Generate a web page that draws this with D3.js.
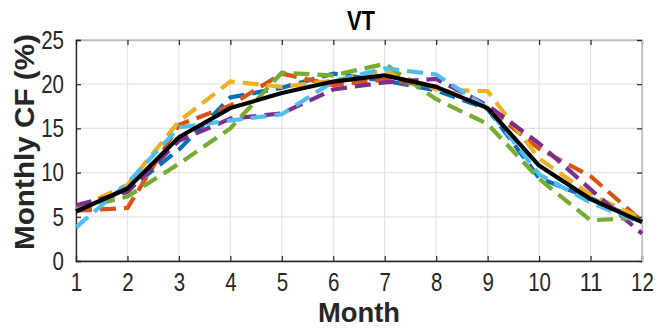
<!DOCTYPE html>
<html><head><meta charset="utf-8">
<script src="https://cdn.jsdelivr.net/npm/d3@7/dist/d3.min.js"></script>
<style>body{margin:0;background:#fff}svg{display:block}text{font-family:"Liberation Sans",Arial,sans-serif}</style>
</head><body>
<svg id="c" width="659" height="328"></svg>
<script>
const months = [1,2,3,4,5,6,7,8,9,10,11,12];
const xTicks = [1,2,3,4,5,6,7,8,9,10,11,12];
const yTicks = [0,5,10,15,20,25];
const title = "VT";
const xLabel = "Month";
const yLabel = "Monthly CF (%)";
const seriesBlue      = [5.8, 8.0, 12.6, 18.5, 19.6, 21.2, 20.4, 19.3, 17.2, 9.4, 7.1, 4.5];
const seriesOrange    = [5.7, 6.0, 15.4, 17.6, 21.2, 19.9, 20.5, 19.7, 17.3, 12.7, 9.6, 4.5];
const seriesYellow    = [5.9, 8.6, 15.8, 20.3, 19.7, 20.4, 21.6, 19.4, 19.2, 11.6, 7.5, 4.8];
const seriesPurple    = [6.3, 7.8, 13.6, 16.1, 16.7, 19.4, 20.2, 20.6, 17.6, 13.3, 8.1, 3.1];
const seriesGreen     = [5.8, 7.3, 11.0, 15.0, 21.3, 21.0, 22.3, 18.3, 15.5, 9.3, 4.6, 4.9];
const seriesLightBlue = [3.8, 8.8, 15.1, 15.9, 16.6, 20.3, 21.8, 21.1, 17.3, 9.8, 6.6, 4.3];
const seriesMean      = [5.6, 8.2, 14.0, 17.3, 19.0, 20.3, 21.0, 19.7, 17.3, 10.8, 7.0, 4.4];
const seriesList = [seriesBlue, seriesOrange, seriesYellow, seriesPurple, seriesGreen, seriesLightBlue];
const colors = ["#0072BD","#D95319","#EDB120","#7E2F8E","#77AC30","#4DBEEE"];

const svg = d3.select("#c");
const L = 76, R = 642, T = 40, B = 261;
const x = d3.scaleLinear().domain([1,12]).range([L,R]);
const y = d3.scaleLinear().domain([0,25]).range([B,T]);

// grid
const g = svg.append("g");
g.selectAll(".gx").data(xTicks.slice(1,-1)).enter().append("line")
  .attr("x1",d=>x(d)).attr("x2",d=>x(d)).attr("y1",T).attr("y2",B)
  .attr("stroke","#e3e3e3").attr("stroke-width",1.2);
g.selectAll(".gy").data(yTicks.slice(1,-1)).enter().append("line")
  .attr("y1",d=>y(d)).attr("y2",d=>y(d)).attr("x1",L).attr("x2",R)
  .attr("stroke","#e3e3e3").attr("stroke-width",1.2);

// box
svg.append("rect").attr("x",L).attr("y",T).attr("width",R-L).attr("height",B-T)
  .attr("fill","none").attr("stroke","#bdbdbd").attr("stroke-width",1.2);

// axes via d3
const xAxisB = d3.axisBottom(x).tickValues(xTicks).tickSize(-5).tickPadding(12).tickFormat(d3.format("d"));
const xAxisT = d3.axisTop(x).tickValues(xTicks).tickSize(-5).tickFormat("");
const yAxisL = d3.axisLeft(y).tickValues(yTicks).tickSize(-5).tickPadding(12).tickFormat(d3.format("d"));
const yAxisR = d3.axisRight(y).tickValues(yTicks).tickSize(-5).tickFormat("");
function style(sel, dark){
  sel.select(".domain").attr("stroke", dark ? "#262626" : "#bdbdbd").attr("stroke-width",1.3);
  sel.selectAll(".tick line").attr("stroke","#262626").attr("stroke-width",1.2);
  sel.selectAll(".tick text").attr("fill","#262626").attr("font-size",26)
     .attr("textLength", d => String(d).length*11.4).attr("lengthAdjust","spacingAndGlyphs");
}
const gxB = svg.append("g").attr("transform",`translate(0,${B})`).call(xAxisB); style(gxB,true);
gxB.selectAll(".tick text").attr("dy","0.71em");
const gxT = svg.append("g").attr("transform",`translate(0,${T})`).call(xAxisT); style(gxT,false);
const gyL = svg.append("g").attr("transform",`translate(${L},0)`).call(yAxisL); style(gyL,true);
const gyR = svg.append("g").attr("transform",`translate(${R},0)`).call(yAxisR); style(gyR,false);

// lines
const line = d3.line().x((d,i)=>x(months[i])).y(d=>y(d));
const lg = svg.append("g");
seriesList.forEach((s,i)=>{
  lg.append("path").attr("d",line(s)).attr("fill","none").attr("stroke",colors[i])
    .attr("stroke-width",4.2).attr("stroke-dasharray","16,8");
});
lg.append("path").attr("d",line(seriesMean)).attr("fill","none").attr("stroke","#000")
  .attr("stroke-width",4.2).attr("stroke-linejoin","round");

// labels
svg.append("text").attr("x",(L+R)/2+2).attr("y",30).attr("text-anchor","middle")
  .attr("font-size",28).attr("font-weight","bold").attr("fill","#000")
  .attr("textLength",28).attr("lengthAdjust","spacingAndGlyphs").text(title);
svg.append("text").attr("x",(L+R)/2).attr("y",322).attr("text-anchor","middle")
  .attr("font-size",27).attr("font-weight","bold").attr("fill","#262626")
  .attr("textLength",82).attr("lengthAdjust","spacingAndGlyphs").text(xLabel);
svg.append("text").attr("transform",`translate(34,142) rotate(-90)`).attr("text-anchor","middle")
  .attr("font-size",27).attr("font-weight","bold").attr("fill","#262626")
  .attr("textLength",216).attr("lengthAdjust","spacingAndGlyphs").text(yLabel);
</script>
</body></html>
